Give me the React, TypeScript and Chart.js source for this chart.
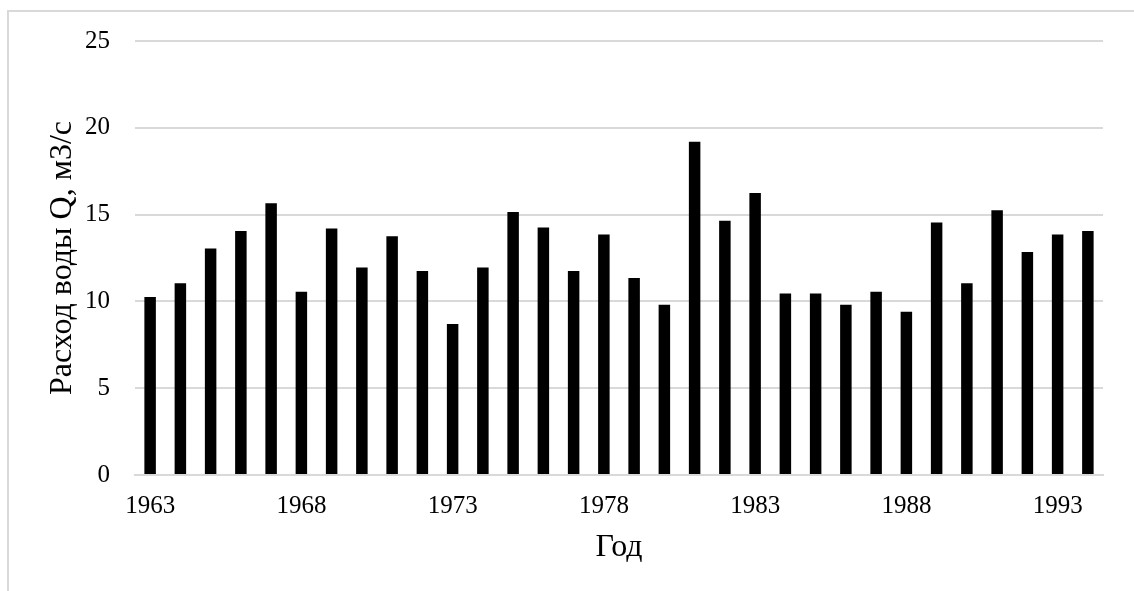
import React, { useEffect, useRef } from "react";
import { Chart, registerables } from "chart.js";

Chart.register(...registerables);

// Годы наблюдений
const years: string[] = [
  "1963", "1964", "1965", "1966", "1967", "1968", "1969", "1970",
  "1971", "1972", "1973", "1974", "1975", "1976", "1977", "1978",
  "1979", "1980", "1981", "1982", "1983", "1984", "1985", "1986",
  "1987", "1988", "1989", "1990", "1991", "1992", "1993", "1994",
];

// Среднегодовой расход воды Q, м3/с
const discharge: number[] = [
  10.25, 11.05, 13.05, 14.05, 15.65, 10.55, 14.2, 11.95,
  13.75, 11.75, 8.7, 11.95, 15.15, 14.25, 11.75, 13.85,
  11.35, 9.8, 19.2, 14.65, 16.25, 10.45, 10.45, 9.8,
  10.55, 9.4, 14.55, 11.05, 15.25, 12.85, 13.85, 14.05,
];

// Подписи оси X выводятся через каждые пять лет
const labelStep = 5;

// Шкала Y
const yMin = 0;
const yMax = 25;
const yStep = 5;

const W = 1134;
const H = 591;
const FONT = "'Liberation Serif', 'Times New Roman', serif";
const GRID = "#d9d9d9";

// Светлая рамка области диаграммы (видны верхняя и левая стороны)
const frame = {
  id: "frame",
  beforeDraw(chart: Chart) {
    const ctx = chart.ctx;
    ctx.save();
    ctx.fillStyle = "#ffffff";
    ctx.fillRect(0, 0, W, H);
    ctx.strokeStyle = GRID;
    ctx.lineWidth = 2;
    ctx.beginPath();
    ctx.moveTo(8, H);
    ctx.lineTo(8, 11);
    ctx.lineTo(W, 11);
    ctx.stroke();
    ctx.restore();
  },
};

export default function App() {
  const ref = useRef<HTMLCanvasElement | null>(null);

  useEffect(() => {
    if (!ref.current) return;
    const chart = new Chart(ref.current, {
      type: "bar",
      data: {
        labels: years,
        datasets: [
          {
            label: "Q",
            data: discharge,
            backgroundColor: "#000000",
            borderWidth: 0,
            barPercentage: 0.38,
            categoryPercentage: 1,
          },
        ],
      },
      options: {
        responsive: false,
        animation: false,
        devicePixelRatio: 1,
        layout: { padding: { top: 41, right: 31, left: 0, bottom: 0 } },
        plugins: {
          legend: { display: false },
          tooltip: { enabled: false },
        },
        scales: {
          x: {
            grid: { display: false, drawTicks: false },
            border: { display: true, color: GRID, width: 2 },
            ticks: {
              autoSkip: false,
              maxRotation: 0,
              minRotation: 0,
              padding: 16,
              color: "#000000",
              font: { family: FONT, size: 25 },
              callback: (_v: any, i: number) => (i % labelStep === 0 ? years[i] : ""),
            },
            title: {
              display: true,
              text: "Год",
              color: "#000000",
              font: { family: FONT, size: 32 },
              padding: { top: 0, bottom: 24 },
            },
            afterFit: (scale: any) => {
              scale.height = 116;
            },
          },
          y: {
            min: yMin,
            max: yMax,
            grid: { color: GRID, lineWidth: 2, drawTicks: false },
            border: { display: false },
            ticks: {
              stepSize: yStep,
              padding: 25,
              color: "#000000",
              font: { family: FONT, size: 25 },
            },
            title: {
              display: true,
              text: "Расход воды Q, м3/с",
              color: "#000000",
              font: { family: FONT, size: 32 },
              padding: { top: 43, bottom: 0 },
            },
            afterFit: (scale: any) => {
              scale.width = 135;
            },
          },
        },
      },
      plugins: [frame],
    });
    return () => chart.destroy();
  }, []);

  return (
    <div style={{ position: "absolute", left: 0, top: 0, width: W, height: H }}>
      <canvas ref={ref} width={W} height={H} style={{ display: "block" }} />
    </div>
  );
}
